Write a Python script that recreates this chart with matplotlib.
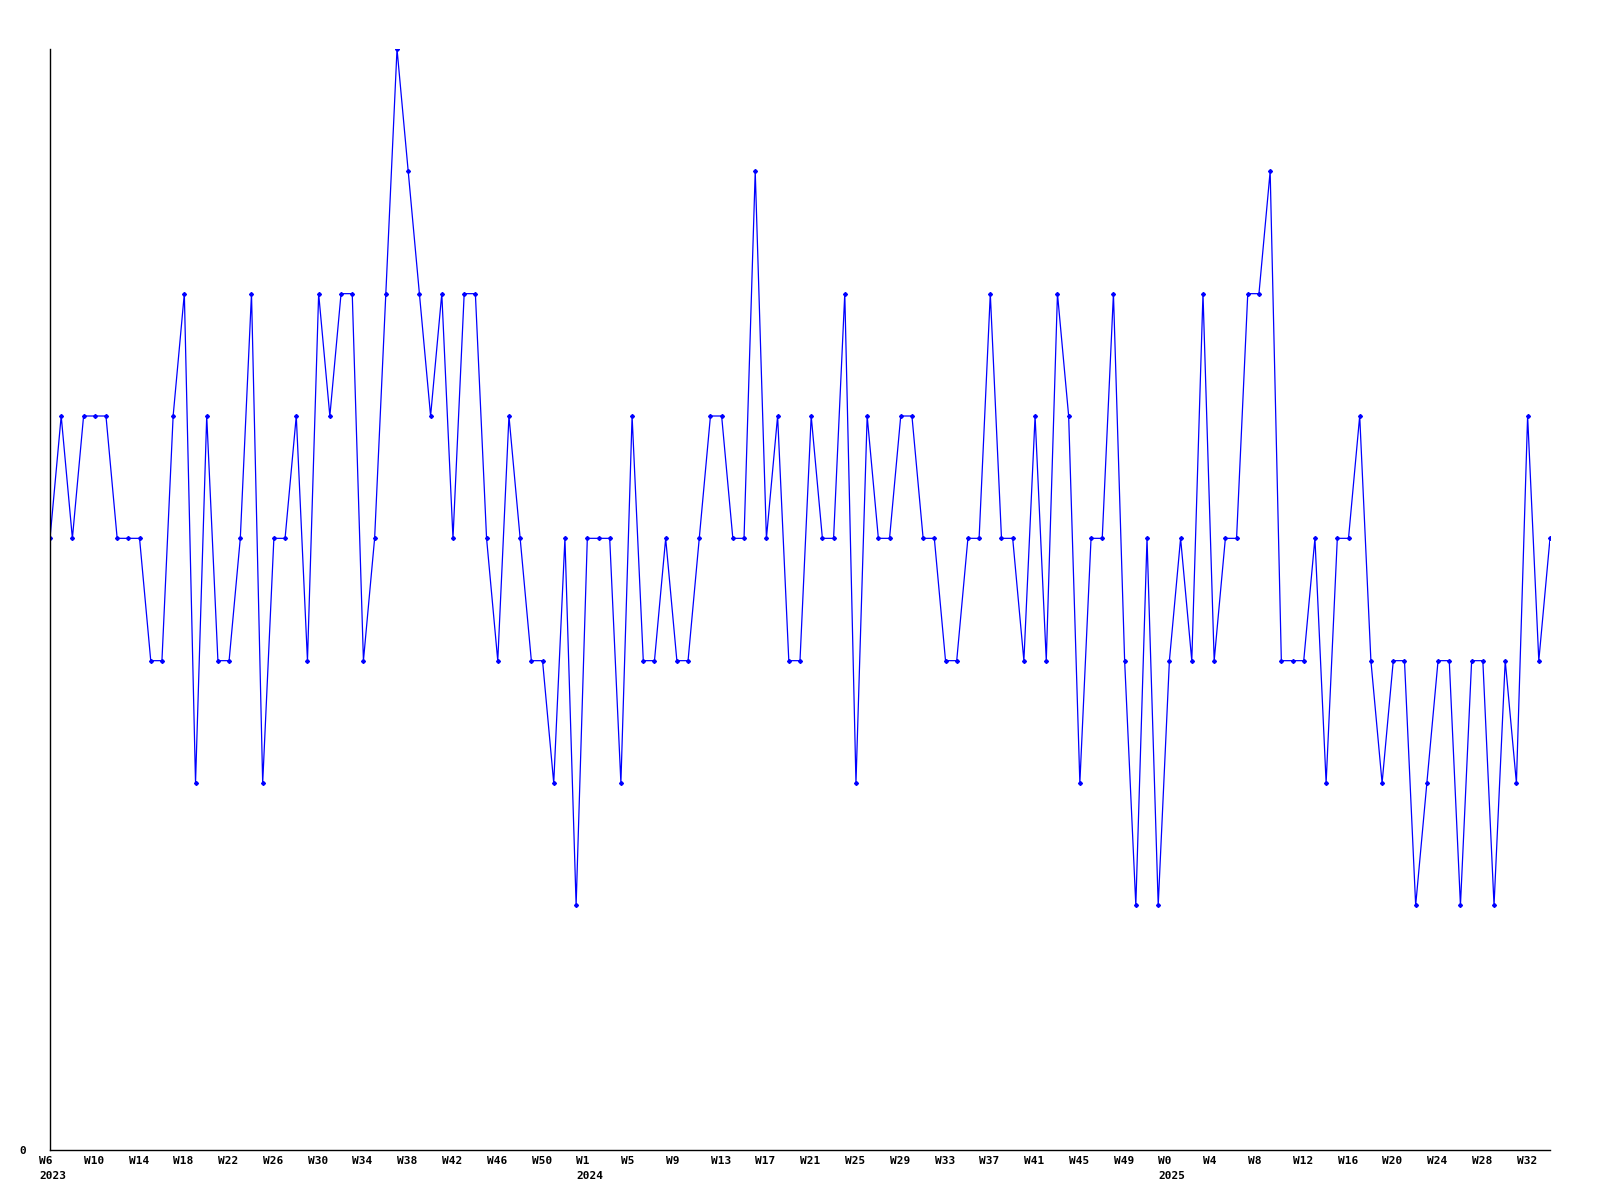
import matplotlib
matplotlib.use("Agg")
import matplotlib.pyplot as plt
from matplotlib.transforms import ScaledTranslation

# =====================
# DATA
# =====================
values = [
    5, 6, 5, 6, 6, 6, 5, 5, 5, 4, 4, 6, 7, 3, 6, 4, 4, 5, 7, 3,
    5, 5, 6, 4, 7, 6, 7, 7, 4, 5, 7, 9, 8, 7, 6, 7, 5, 7, 7, 5,
    4, 6, 5, 4, 4, 3, 5, 2, 5, 5, 5, 3, 6, 4, 4, 5, 4, 4, 5, 6,
    6, 5, 5, 8, 5, 6, 4, 4, 6, 5, 5, 7, 3, 6, 5, 5, 6, 6, 5, 5,
    4, 4, 5, 5, 7, 5, 5, 4, 6, 4, 7, 6, 3, 5, 5, 7, 4, 2, 5, 2,
    4, 5, 4, 7, 4, 5, 5, 7, 7, 8, 4, 4, 4, 5, 3, 5, 5, 6, 4, 3,
    4, 4, 2, 3, 4, 4, 2, 4, 4, 2, 4, 3, 6, 4, 5,
]

week_labels = [
    "W6\n2023", "W10", "W14", "W18", "W22", "W26", "W30", "W34", "W38",
    "W42", "W46", "W50",
    "W1\n2024", "W5", "W9", "W13", "W17", "W21", "W25", "W29", "W33",
    "W37", "W41", "W45", "W49",
    "W0\n2025", "W4", "W8", "W12", "W16", "W20", "W24", "W28", "W32",
]
label_step = 4

# =====================
# PLOT
# =====================
fig = plt.figure(figsize=(16, 12), dpi=100)
ax = fig.add_axes([50 / 1600, 1 - 1150 / 1200, 1500 / 1600, 1101 / 1200])

x = list(range(len(values)))
ax.plot(x, values, color="#0000ff", lw=0.9, marker="D", markersize=2.0,
        markerfacecolor="#0000ff", markeredgecolor="#0000ff")

ax.set_xlim(0, len(values) - 1)
ax.set_ylim(0, max(values))

for side in ("top", "right"):
    ax.spines[side].set_visible(False)
for side in ("left", "bottom"):
    ax.spines[side].set_color("black")
    ax.spines[side].set_linewidth(1)

font = dict(family="DejaVu Sans Mono", weight="bold", size=8)

ax.set_xticks(range(0, len(values), label_step)[:len(week_labels)])
ax.set_xticklabels(week_labels, ha="left", va="top", **font)
ax.tick_params(axis="x", length=0, pad=4)
shift = ScaledTranslation(-11 / 100, 0, fig.dpi_scale_trans)
for lab in ax.get_xticklabels():
    lab.set_transform(lab.get_transform() + shift)
    lab.set_linespacing(1.65)

ax.set_yticks([0])
ax.set_yticklabels(["0"], **font)
ax.tick_params(axis="y", length=0, pad=17)

fig.savefig("out.png", dpi=100, facecolor="white")
